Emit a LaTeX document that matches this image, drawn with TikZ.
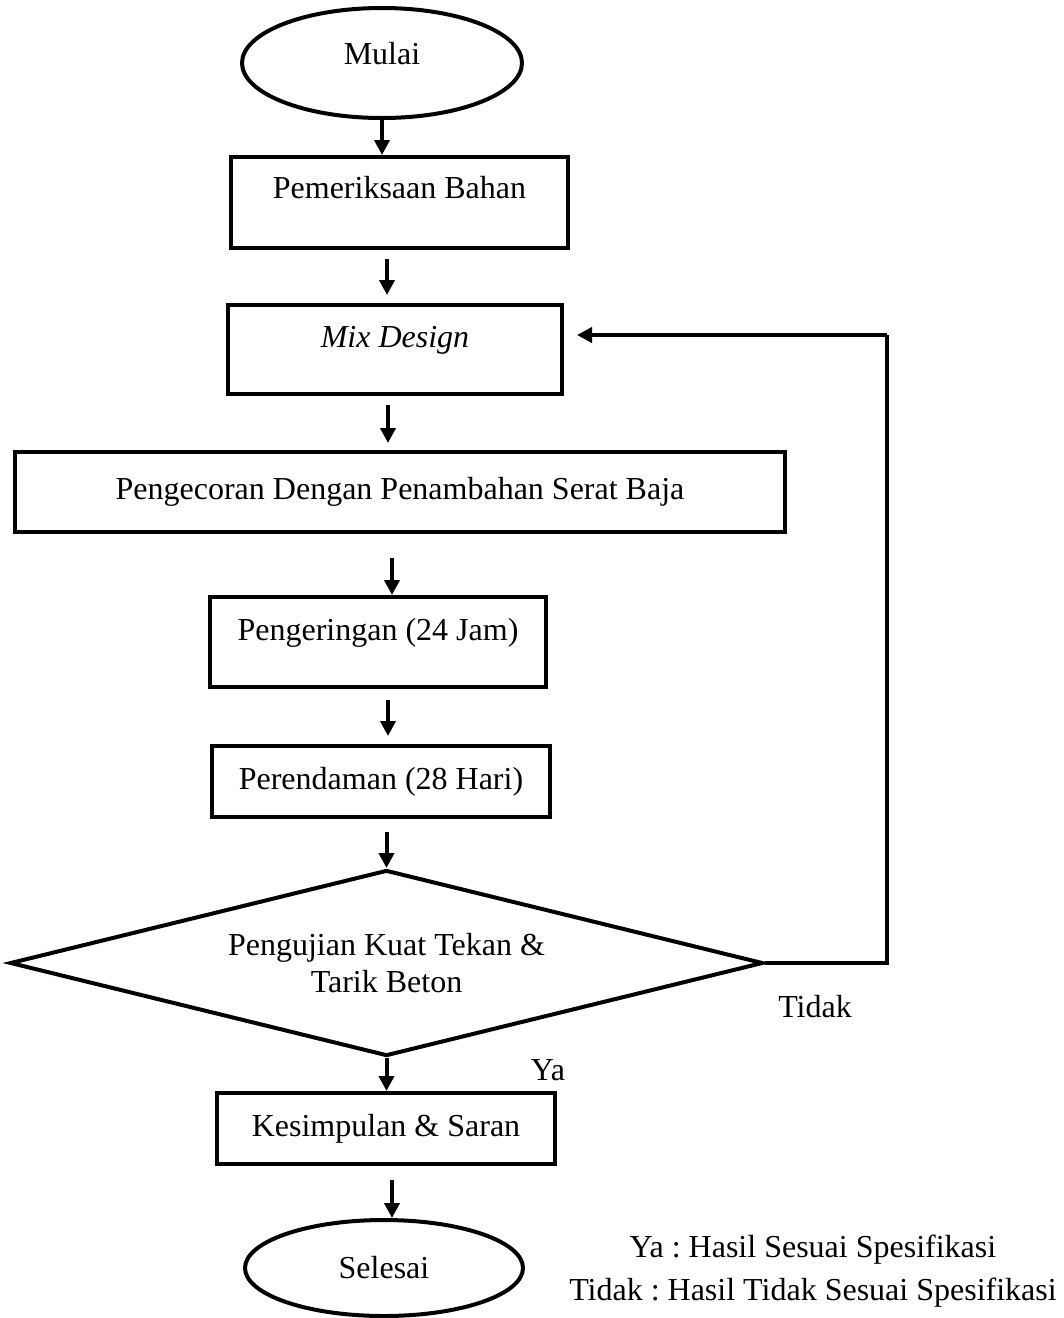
\documentclass[tikz,border=0pt]{standalone}
\usepackage{fontspec}
\setmainfont{Liberation Serif}
\usepackage{tikz}
\usetikzlibrary{shapes.geometric,arrows.meta}
\frenchspacing

\begin{document}
\begin{tikzpicture}[x=1pt, y=-1pt,
  every node/.style={font=\fontsize{32}{37}\selectfont},
  kotak/.style={draw, line width=4pt, rectangle, inner sep=0pt},
  oval/.style={draw, line width=4pt, ellipse, inner sep=0pt},
  belah/.style={draw, line width=4pt, diamond, inner sep=0pt, shape aspect=4.05, align=center},
  naik/.style={text depth=#1},
  panah/.style={line width=4pt, -{Triangle[width=15pt,length=15pt]}},
  garis/.style={line width=4pt}]
\useasboundingbox (0,0) rectangle (1064,1318);

% start and process boxes
\node[oval, naik=19pt, minimum width=280, minimum height=110] (mulai) at (382, 63) {Mulai};
\node[kotak, naik=31pt, minimum width=337, minimum height=91] (periksa) at (399.5, 202.5) {Pemeriksaan Bahan};
\node[kotak, naik=25pt, minimum width=334, minimum height=89] (mix) at (395, 349.5) {\textit{Mix Design}};
\node[kotak, minimum width=770, minimum height=80] (cor) at (400, 492) {Pengecoran Dengan Penambahan Serat Baja};
\node[kotak, naik=25pt, minimum width=336, minimum height=90] (kering) at (378, 642) {Pengeringan (24 Jam)};
\node[kotak, minimum width=338, minimum height=71] (rendam) at (381, 781.5) {Perendaman (28 Hari)};

% decision
\node[belah, minimum width=753, minimum height=186] (uji) at (386.5, 963) {Pengujian Kuat Tekan \&\\Tarik Beton};

% end
\node[kotak, minimum width=338, minimum height=71] (simpul) at (386, 1128.5) {Kesimpulan \& Saran};
\node[oval, minimum width=278, minimum height=96] (selesai) at (384, 1268) {Selesai};

\coordinate (balik) at (887, 335); % corner of the loop back

% arrows
\draw[panah] (mulai.south) -- (mulai.south |- periksa.north);
\draw[panah, shorten <=9pt, shorten >=8pt] (periksa.south -| 387,0) -- (mix.north -| 387,0);
\draw[panah, shorten <=9pt, shorten >=7pt] (mix.south -| 388,0) -- (cor.north -| 388,0);
\draw[panah, shorten <=24pt] (cor.south -| 392,0) -- (kering.north -| 392,0);
\draw[panah, shorten <=11pt, shorten >=8pt] (kering.south -| 388,0) -- (rendam.north -| 388,0);
\draw[panah, shorten <=13pt] (rendam.south -| uji.north) -- (uji.north);
\draw[panah] (uji.south) -- (uji.south |- simpul.north);
\draw[panah, shorten <=14pt] (simpul.south -| 392,0) -- (selesai.north -| 392,0);

% loop back when the test fails
\draw[garis] (uji.east) -| (balik);
\draw[panah, shorten >=13pt] (balik) -- (balik -| mix.east);

\node (tidak) at (815, 1007) {Tidak};
\node (ya) at (548, 1070) {Ya};

% legend
\node[align=center, font=\fontsize{32}{43}\selectfont] (ket) at (813, 1271)
  {Ya : Hasil Sesuai Spesifikasi\\Tidak : Hasil Tidak Sesuai Spesifikasi};
\end{tikzpicture}
\end{document}
